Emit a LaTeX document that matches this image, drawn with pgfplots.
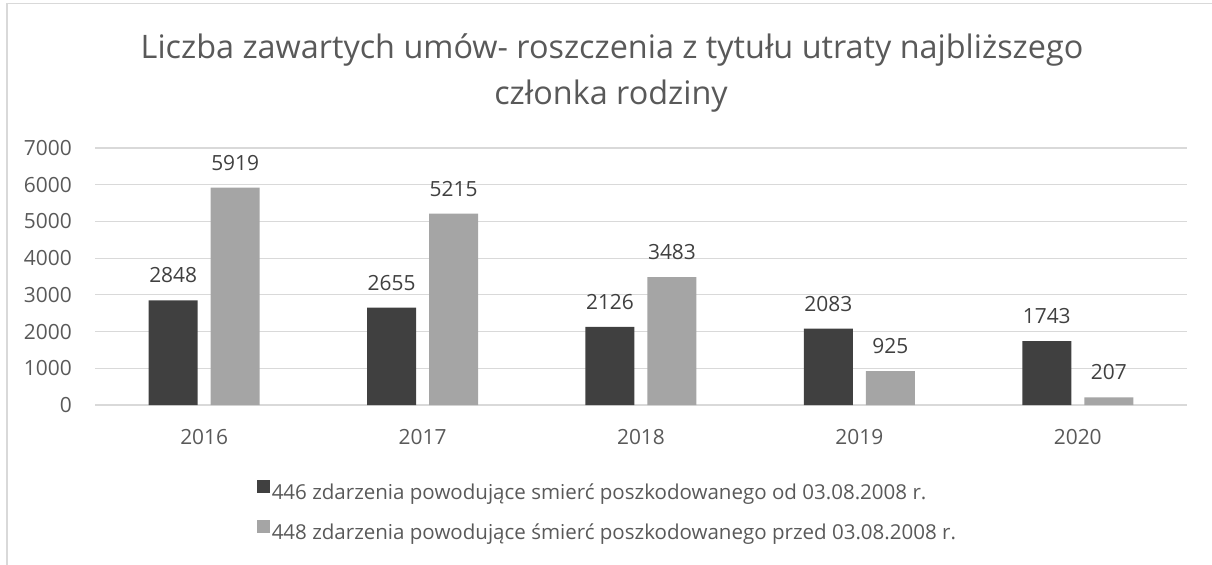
\documentclass[border=0pt]{standalone}
\usepackage{fontspec}
\setmainfont{Open Sans}
\usepackage{pgfplots}
\pgfplotsset{compat=1.18}
\definecolor{darkbar}{HTML}{404040}
\definecolor{lightbar}{HTML}{A5A5A5}
\definecolor{gridc}{HTML}{D9D9D9}
\definecolor{txt}{HTML}{595959}
\begin{document}
\begin{tikzpicture}[x=1bp,y=1bp]
\useasboundingbox (0,0) rectangle (1212,-565);
\draw[color=gridc, line width=1.2bp] (7,-565) -- (7,-3.5) -- (1212,-3.5);
\node[font=\fontsize{32.5}{40}\selectfont, color=txt, anchor=base] at (612,-59) {Liczba zawartych umów- roszczenia z tytułu utraty najbliższego};
\node[font=\fontsize{32.5}{40}\selectfont, color=txt, anchor=base] at (611,-105) {członka rodziny};
\begin{axis}[
  at={(95bp,-405bp)}, anchor=south west,
  scale only axis, width=1092bp, height=257bp,
  ybar=13bp, bar width=49bp,
  xmin=-0.5, xmax=4.5, ymin=0, ymax=7000,
  xtick=data, xticklabels={2016,2017,2018,2019,2020},
  ytick={0,1000,...,7000},
  axis x line*=bottom, axis y line*=left,
  x axis line style={draw=gridc, line width=1.2bp, -},
  y axis line style={draw=none},
  ymajorgrids, grid style={draw=gridc, line width=1.2bp},
  major tick length=0pt,
  /pgf/number format/assume math mode=true,
  /pgf/number format/1000 sep={},
  ticklabel style={font=\fontsize{21}{24}\selectfont, color=txt},
  yticklabel style={anchor=east, inner sep=0pt, xshift=-23bp},
  xticklabel style={anchor=center, inner sep=0pt, yshift=-32bp},
  nodes near coords,
  every node near coord/.append style={font=\fontsize{21}{24}\selectfont, color=darkbar, anchor=center, inner sep=0pt, yshift=25bp, /pgf/number format/assume math mode=true, /pgf/number format/1000 sep={}},
  legend style={at={(0.1484,-0.29)}, anchor=north west, draw=none, fill=none,
    font=\fontsize{20.6}{24}\selectfont, text=txt, row sep=18bp, inner sep=0pt,
    nodes={inner sep=1.5bp, anchor=west}},
  legend cell align=left,
  legend image code/.code={\fill[#1] (0bp,-0.5bp) rectangle (13bp,12.5bp);},
]
\addplot[fill=darkbar, draw=none] coordinates {(0,2848) (1,2655) (2,2126) (3,2083) (4,1743)};
\addplot[fill=lightbar, draw=none] coordinates {(0,5919) (1,5215) (2,3483) (3,925) (4,207)};
\legend{446 zdarzenia powodujące smierć poszkodowanego od 03.08.2008 r., 448 zdarzenia powodujące śmierć poszkodowanego przed 03.08.2008 r.}
\end{axis}
\end{tikzpicture}
\end{document}
